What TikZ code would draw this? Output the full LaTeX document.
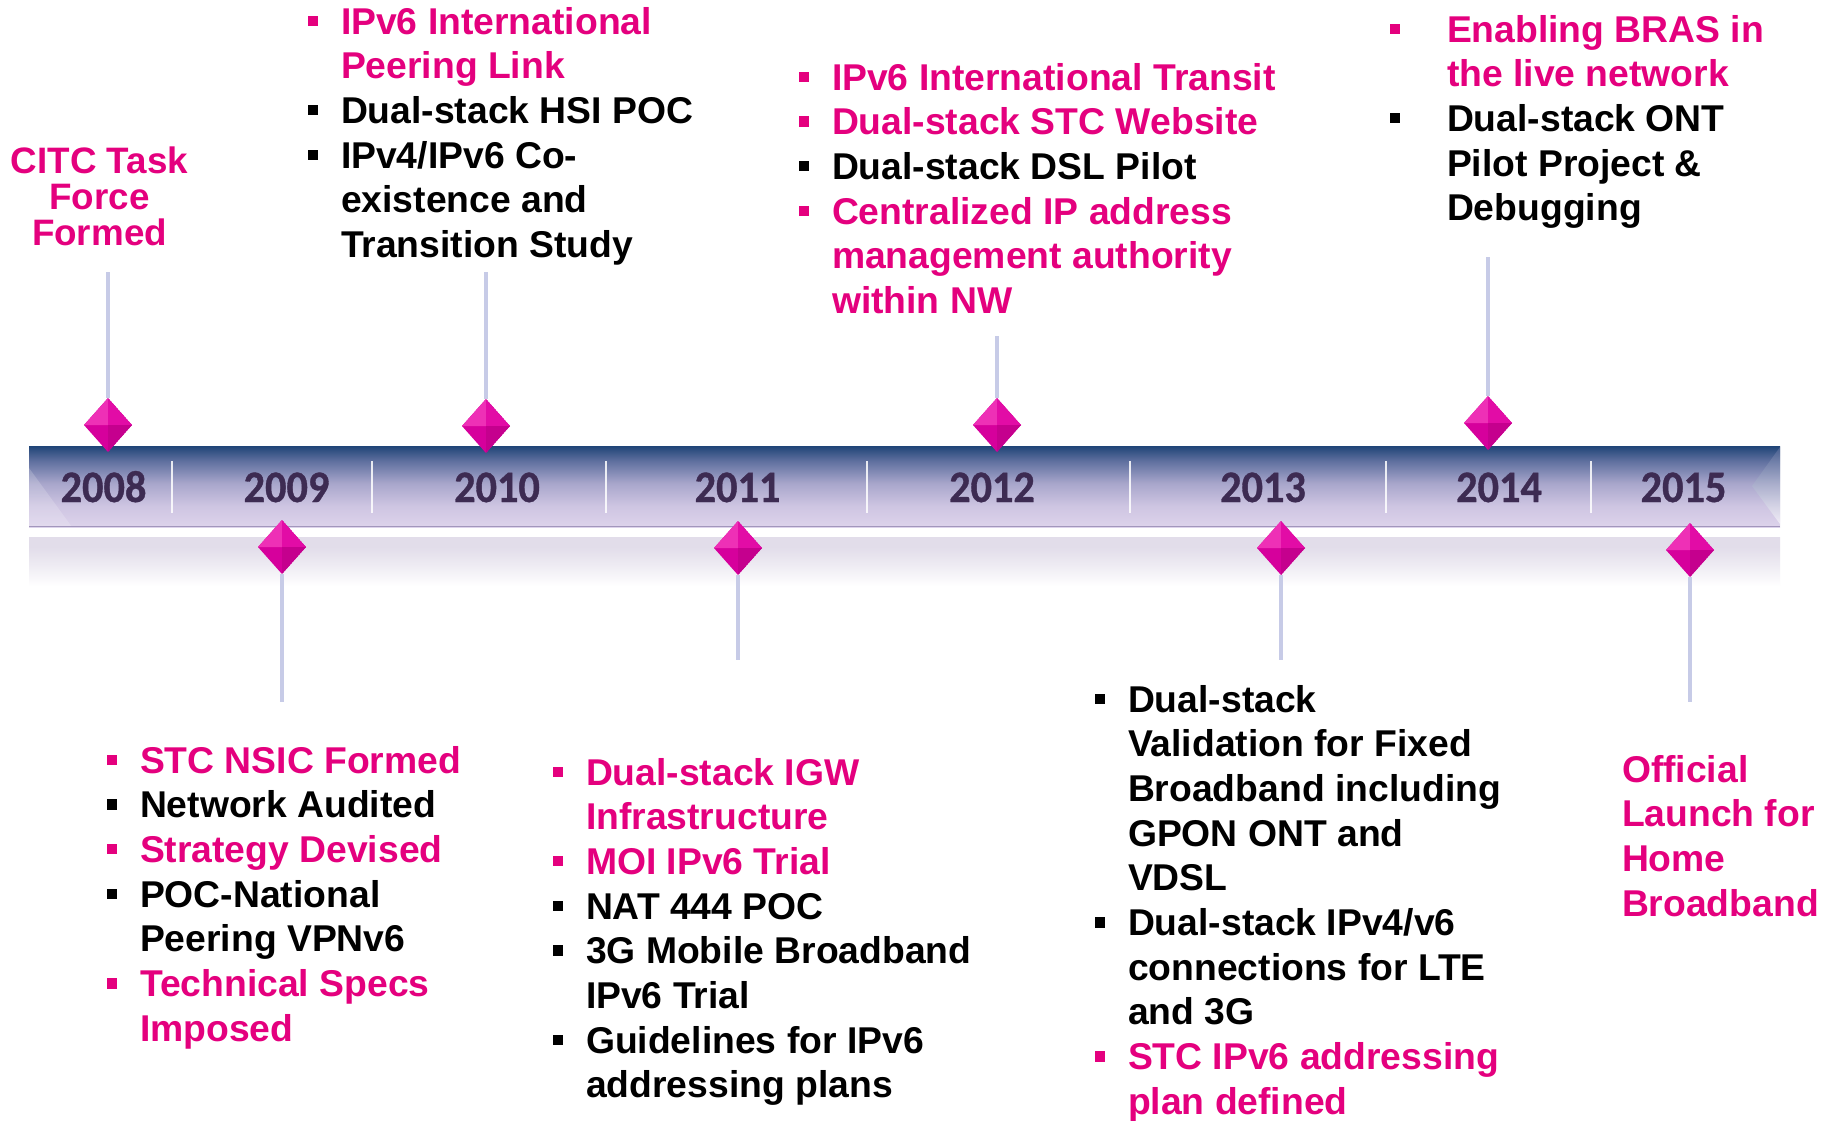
\documentclass[tikz,border=0pt]{standalone}
\usepackage{fontspec}
\setmainfont{Liberation Sans}
\newfontfamily\yearfont[FakeStretch=0.94,FakeBold=0.8]{Carlito Bold}
\usetikzlibrary{shapes.geometric}
\definecolor{pk}{HTML}{E4007E}
\definecolor{bk}{HTML}{000000}
\definecolor{yr}{HTML}{3D2B52}
\definecolor{stemc}{HTML}{C7CBE7}
\definecolor{barA}{HTML}{1F4477}
\definecolor{barB}{HTML}{5E6F9E}
\definecolor{barC}{HTML}{A8A6CB}
\definecolor{barD}{HTML}{CEC5E2}
\definecolor{barE}{HTML}{DDD3EB}
\definecolor{barline}{HTML}{A296BC}
\definecolor{refl}{HTML}{E2DDEA}
\definecolor{gemc}{HTML}{D6009C}
\definecolor{gemhi}{HTML}{EE30B6}
\definecolor{gemtr}{HTML}{E20CA6}
\definecolor{gemlo}{HTML}{C5008E}
\pgfdeclareverticalshading{barshade}{100bp}{color(0bp)=(barE); color(25bp)=(barE); color(38bp)=(barD); color(52bp)=(barC); color(66bp)=(barB); color(75bp)=(barA); color(100bp)=(barA)}
\pgfdeclareverticalshading{reflshade}{100bp}{color(0bp)=(white); color(25bp)=(white); color(45bp)=(refl!55); color(65bp)=(refl); color(100bp)=(refl)}
\newcommand\bu[1]{\rule{0pt}{14pt}\makebox[16.5pt][l]{\textcolor{#1}{\rule[4pt]{5.2pt}{5.2pt}}}}
\newcommand\cl{\hspace*{16.5pt}}
\newcommand\buw[1]{\rule{0pt}{14pt}\makebox[28.5pt][l]{\textcolor{#1}{\rule[4pt]{5.2pt}{5.2pt}}}}
\newcommand\clw{\hspace*{28.5pt}}
\tikzset{
  blk/.style={inner sep=0pt, outer sep=0pt, anchor=north west, align=left, text=bk,
    font=\fontsize{18.65}{22.35}\selectfont\bfseries},
  yearlbl/.style={inner sep=0pt, anchor=base, text=yr,
    font=\yearfont\fontsize{22.5}{27}\selectfont},
  gem/.style={diamond, inner sep=0pt, outer sep=0pt, minimum width=24pt, minimum height=27pt,
    fill=gemc,
    path picture={
      \fill[gemhi] (path picture bounding box.north) -- (path picture bounding box.west) -- (path picture bounding box.center) -- cycle;
      \fill[gemtr] (path picture bounding box.north) -- (path picture bounding box.east) -- (path picture bounding box.center) -- cycle;
      \fill[gemlo] (path picture bounding box.south) -- (path picture bounding box.east) -- (path picture bounding box.center) -- cycle;
    }},
  stem/.style={draw=stemc, line width=1.8pt},
  divider/.style={draw=white, line width=0.9pt, opacity=0.85}
}
\begin{document}
\begin{tikzpicture}[x=0.5pt,y=-0.5pt]
\useasboundingbox (0,0) rectangle (1825,1120);
\fill[white] (0,0) rectangle (1825,1120);

% reflection band
\shade[shading=reflshade] (29,537) rectangle (1780,586);
% bar
\shade[shading=barshade] (29,446) rectangle (1780,527);
\fill[white, opacity=0.18] (29,527) -- (29,468) -- (72,527) -- cycle;
\shade[top color=barB, bottom color=white, opacity=0.6] (1780,447) -- (1752,486) -- (1780,524) -- cycle;
\draw[barline, line width=0.9pt] (29,526.5) -- (1780,526.5);

% dividers
\foreach \x in {172,372,606,867,1130,1386,1591}
  \draw[divider] (\x,461) -- (\x,513);

% years
\node[yearlbl] (y08) at (103.5,502) {2008};
\node[yearlbl] (y09) at (286.5,502) {2009};
\node[yearlbl] (y10) at (497,502) {2010};
\node[yearlbl] (y11) at (737.5,502) {2011};
\node[yearlbl] (y12) at (992,502) {2012};
\node[yearlbl] (y13) at (1263,502) {2013};
\node[yearlbl] (y14) at (1499,502) {2014};
\node[yearlbl] (y15) at (1683.5,502) {2015};

% diamonds
\node[gem] (g08) at (108,425) {};
\node[gem] (g10) at (486,426) {};
\node[gem] (g12) at (997,425) {};
\node[gem] (g14) at (1488,423) {};
\node[gem] (g09) at (282,547) {};
\node[gem] (g11) at (738,548) {};
\node[gem] (g13) at (1281,548) {};
\node[gem] (g15) at (1690,550) {};

% stem ends
\coordinate (e08) at (108,272);
\coordinate (e10) at (486,272);
\coordinate (e12) at (997,336);
\coordinate (e14) at (1488,257);
\coordinate (e09) at (282,702);
\coordinate (e11) at (738,660);
\coordinate (e13) at (1281,660);
\coordinate (e15) at (1690,702);
\draw[stem] (g08.north) -- (e08);
\draw[stem] (g10.north) -- (e10);
\draw[stem] (g12.north) -- (e12);
\draw[stem] (g14.north) -- (e14);
\draw[stem] (g09.south) -- (e09);
\draw[stem] (g11.south) -- (e11);
\draw[stem] (g13.south) -- (e13);
\draw[stem] (g15.south) -- (e15);

% texts
\node[inner sep=0pt, anchor=north, align=center, text=pk,
  font=\fontsize{18.4}{18}\selectfont\bfseries] (t08) at (99.5,145)
  {\rule{0pt}{14pt}CITC Task\\Force\\Formed};

\node[blk] (t10) at (308,6) {\bu{pk}\textcolor{pk}{IPv6 International}\\
\cl\textcolor{pk}{Peering Link}\\
\bu{bk}Dual-stack HSI POC\\
\bu{bk}IPv4/IPv6 Co-\\
\cl existence and\\
\cl Transition Study};

\node[blk] (t12) at (799,62) {\bu{pk}\textcolor{pk}{IPv6 International Transit}\\
\bu{pk}\textcolor{pk}{Dual-stack STC Website}\\
\bu{bk}Dual-stack DSL Pilot\\
\bu{pk}\textcolor{pk}{Centralized IP address}\\
\cl\textcolor{pk}{management authority}\\
\cl\textcolor{pk}{within NW}};

\node[blk] (t14) at (1390,14) {\buw{pk}\textcolor{pk}{Enabling BRAS in}\\
\clw\textcolor{pk}{the live network}\\
\buw{bk}Dual-stack ONT\\
\clw Pilot Project \&\\
\clw Debugging};

\node[blk] (t09) at (107,745) {\bu{pk}\textcolor{pk}{STC NSIC Formed}\\
\bu{bk}Network Audited\\
\bu{pk}\textcolor{pk}{Strategy Devised}\\
\bu{bk}POC-National\\
\cl Peering VPNv6\\
\bu{pk}\textcolor{pk}{Technical Specs}\\
\cl\textcolor{pk}{Imposed}};

\node[blk] (t11) at (553,757) {\bu{pk}\textcolor{pk}{Dual-stack IGW}\\
\cl\textcolor{pk}{Infrastructure}\\
\bu{pk}\textcolor{pk}{MOI IPv6 Trial}\\
\bu{bk}NAT 444 POC\\
\bu{bk}3G Mobile Broadband\\
\cl IPv6 Trial\\
\bu{bk}Guidelines for IPv6\\
\cl addressing plans};

\node[blk] (t13) at (1095,684) {\bu{bk}Dual-stack\\
\cl Validation for Fixed\\
\cl Broadband including\\
\cl GPON ONT and\\
\cl VDSL\\
\bu{bk}Dual-stack IPv4/v6\\
\cl connections for LTE\\
\cl and 3G\\
\bu{pk}\textcolor{pk}{STC IPv6 addressing}\\
\cl\textcolor{pk}{plan defined}};

\node[blk, text=pk] (t15) at (1622,754) {\rule{0pt}{14pt}Official\\
Launch for\\
Home\\
Broadband};
\end{tikzpicture}
\end{document}
